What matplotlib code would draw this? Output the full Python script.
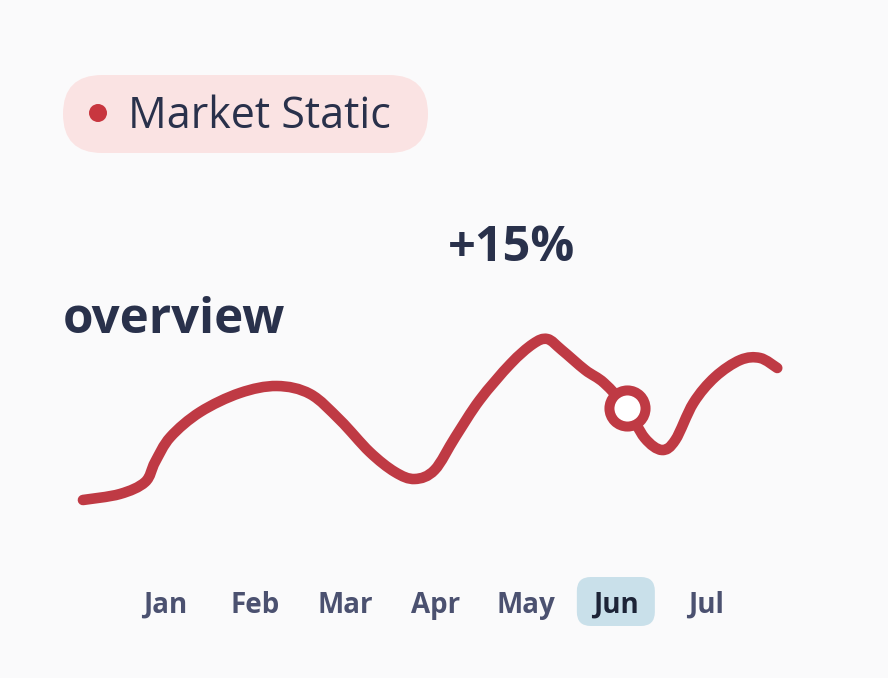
import numpy as np
import matplotlib
matplotlib.use("Agg")
import matplotlib.pyplot as plt
from matplotlib.patches import FancyBboxPatch, Circle, PathPatch
from matplotlib.path import Path
import matplotlib.transforms as mtransforms

plt.rcParams['font.family'] = ['Open Sans', 'DejaVu Sans']

# ---- data ----
months = ["Jan", "Feb", "Mar", "Apr", "May", "Jun", "Jul"]
highlight_month = "Jun"
# curve readings: x in month units (Jan = 0), y in value units
curve_x = [-0.91, -0.50, -0.22, -0.11, 0.06, 0.39, 0.83, 1.24, 1.61,
           1.94, 2.27, 2.55, 2.77, 2.99, 3.22, 3.49, 3.83, 4.08, 4.24,
           4.40, 4.66, 4.87, 5.12, 5.32, 5.51, 5.66, 5.86, 6.10, 6.38,
           6.60, 6.79]
curve_y = [10.0, 13.0, 19.0, 29.0, 41.5, 54.0, 63.5, 67.0, 63.0,
           50.0, 34.0, 24.0, 20.5, 25.0, 41.5, 60.0, 78.0, 88.0, 90.5,
           85.0, 75.0, 68.5, 56.0, 41.0, 35.0, 40.0, 58.5, 71.5, 80.0,
           81.0, 76.0]
marker_x = 5.12
marker_y = 56.0
badge_label = "Market Static"
change_label = "+15%"
title_label = "overview"

# ---- style ----
W, H = 888, 678
BG = "#fafafb"
RED = "#bf3a44"
NAVY = "#29314b"
MONTH_C = "#4b5170"

fig = plt.figure(figsize=(W / 100, H / 100), dpi=100, facecolor=BG)

# data axes covering the whole figure
ax = fig.add_axes([0, 0, 1, 1])
ax.set_facecolor("none")
x0px, xstep = 165.0, 90.17
ax.set_xlim(-x0px / xstep, (W - x0px) / xstep)
ax.set_ylim((520 - H) / 2.0, 520 / 2.0)
ax.axis("off")

# smooth curve (Catmull-Rom converted to cubic Bezier segments)
pts = np.column_stack([curve_x, curve_y])
verts = [pts[0]]
codes = [Path.MOVETO]
n = len(pts)
for i in range(n - 1):
    p0 = pts[i - 1] if i > 0 else pts[i]
    p1 = pts[i]
    p2 = pts[i + 1]
    p3 = pts[i + 2] if i + 2 < n else pts[i + 1]
    c1 = p1 + (p2 - p0) / 6.0
    c2 = p2 - (p3 - p1) / 6.0
    verts += [c1, c2, p2]
    codes += [Path.CURVE4] * 3
path = Path(verts, codes)
ax.add_patch(PathPatch(path, facecolor="none", edgecolor=RED, lw=7.6,
                       capstyle="round", joinstyle="round", zorder=3))
ax.plot([marker_x], [marker_y], marker="o", ms=26, mfc="white", mec=RED,
        mew=7.2, zorder=4)

# month labels (x in data, y in figure pixels)
trans = mtransforms.blended_transform_factory(ax.transData, fig.transFigure)
for i, m in enumerate(months):
    hl = (m == highlight_month)
    ax.text(i, 1 - 613 / H, m, transform=trans, ha="center", va="baseline",
            fontsize=20, fontweight="bold",
            color="#1d2437" if hl else MONTH_C, zorder=5)

# overlay axes in pixel units for decorations
ov = fig.add_axes([0, 0, 1, 1], zorder=-1)
ov.set_xlim(0, W)
ov.set_ylim(H, 0)
ov.axis("off")
ov.set_facecolor("none")

# badge pill
ov.add_patch(FancyBboxPatch((63, 75), 365, 78,
                            boxstyle="round,pad=0,rounding_size=39",
                            fc="#fae3e3", ec="none"))
ov.add_patch(Circle((98, 113), 9, fc="#c8363f", ec="none"))
fig.text(128 / W, 1 - 128 / H, badge_label, ha="left", va="baseline",
         fontsize=31, color=NAVY)

# highlighted month box
jun_px = x0px + xstep * months.index(highlight_month)
ov.add_patch(FancyBboxPatch((jun_px - 39, 577), 78, 49,
                            boxstyle="round,pad=0,rounding_size=14",
                            fc="#c9e0ea", ec="none"))

# headings
fig.text(448 / W, 1 - 261 / H, change_label, ha="left", va="baseline",
         fontsize=35, fontweight="bold", color=NAVY)
fig.text(63 / W, 1 - 333 / H, title_label, ha="left", va="baseline",
         fontsize=35.5, fontweight="bold", color=NAVY)

fig.savefig("out.png", dpi=100, facecolor=BG)
